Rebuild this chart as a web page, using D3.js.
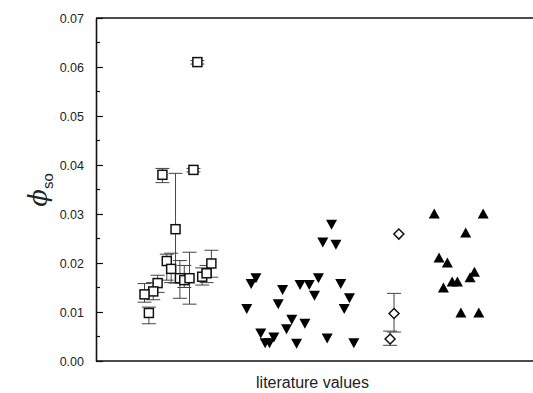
<!DOCTYPE html>
<html>
<head>
<meta charset="utf-8">
<script src="https://cdn.jsdelivr.net/npm/d3@7"></script>
<style>
  body { margin: 0; background: #fff; }
  svg { display: block; font-family: "Liberation Sans", Arial, sans-serif; }
</style>
</head>
<body>
<div id="plot"></div>
<script>
// open squares (with error bars)
const sqX  = [15.2, 22.3, 18.2, 16.2, 17.2, 19.2, 20.2, 21.4, 14.1, 13.1, 11.1, 12.1, 24.3, 25.3, 26.4, 23.2];
const sqY  = [0.0380, 0.0390, 0.0269, 0.0204, 0.0188, 0.0169, 0.0165, 0.0169, 0.0159, 0.0142, 0.0136, 0.0098, 0.0172, 0.0179, 0.0199, 0.0610];
const sqLo = [0.0364, 0.0386, 0.0159, 0.0165, 0.0160, 0.0128, 0.0150, 0.0116, 0.0140, 0.0125, 0.0120, 0.0076, 0.0155, 0.0160, 0.0171, 0.0606];
const sqHi = [0.0393, 0.0393, 0.0383, 0.0218, 0.0220, 0.0205, 0.0195, 0.0222, 0.0175, 0.0160, 0.0158, 0.0110, 0.0190, 0.0195, 0.0226, 0.0613];

// filled down triangles
const dnX = [53.9, 51.9, 54.9, 36.6, 35.5, 50.9, 46.7, 48.8, 56.0, 42.7, 50.0, 58.0, 41.7, 34.5, 56.8, 44.8, 47.8, 43.6, 37.7, 40.7, 38.7, 39.7, 45.9, 52.9, 59.0];
const dnY = [0.0278, 0.0242, 0.0237, 0.0169, 0.0157, 0.0169, 0.0155, 0.0155, 0.0157, 0.0145, 0.0133, 0.0128, 0.0116, 0.0106, 0.0106, 0.0084, 0.0076, 0.0065, 0.0056, 0.0048, 0.0036, 0.0036, 0.0035, 0.0046, 0.0036];

// open diamonds (with error bars)
const dmX  = [69.3, 68.2, 67.3];
const dmY  = [0.0259, 0.0097, 0.0045];
const dmLo = [0.0259, 0.0059, 0.0032];
const dmHi = [0.0259, 0.0138, 0.0061];

// filled up triangles
const upX = [77.4, 88.6, 84.6, 78.5, 80.4, 86.6, 85.6, 81.5, 82.7, 79.5, 83.5, 87.6];
const upY = [0.0301, 0.0301, 0.0262, 0.0211, 0.0201, 0.0182, 0.0171, 0.0162, 0.0162, 0.0150, 0.0099, 0.0099];

const yTicks = [0, 0.01, 0.02, 0.03, 0.04, 0.05, 0.06, 0.07];
const yMinor = [0.005, 0.015, 0.025, 0.035, 0.045, 0.055, 0.065];

const width = 533, height = 393;
const plotLeft = 96, plotRight = 533, plotTop = 18, plotBottom = 361;

const svg = d3.select("#plot").append("svg")
  .attr("width", width)
  .attr("height", height);

const x = d3.scaleLinear().domain([0, 100]).range([plotLeft, plotRight]);
const y = d3.scaleLinear().domain([0, 0.07]).range([plotBottom, plotTop]);

// frame: top and bottom lines
svg.append("line").attr("x1", plotLeft).attr("x2", plotRight).attr("y1", plotTop).attr("y2", plotTop)
  .attr("stroke", "#111").attr("stroke-width", 1.6);
svg.append("line").attr("x1", plotLeft).attr("x2", plotRight).attr("y1", plotBottom).attr("y2", plotBottom)
  .attr("stroke", "#111").attr("stroke-width", 1.6);

// y axis with inward ticks
const yAxis = svg.append("g")
  .attr("transform", "translate(" + plotLeft + ",0)")
  .call(d3.axisLeft(y).tickValues(yTicks).tickFormat(d3.format(".2f")).tickSizeInner(-7).tickSizeOuter(0).tickPadding(12));
yAxis.select(".domain").attr("stroke", "#111").attr("stroke-width", 1.6);
yAxis.selectAll(".tick line").attr("stroke", "#111").attr("stroke-width", 1.2);
yAxis.selectAll(".tick text").attr("font-size", 12.5).attr("fill", "#222")
  .attr("font-family", "'Liberation Sans', Arial, sans-serif");

svg.append("g")
  .selectAll("line")
  .data(yMinor)
  .enter()
  .append("line")
  .attr("x1", plotLeft).attr("x2", plotLeft + 4)
  .attr("y1", d => y(d)).attr("y2", d => y(d))
  .attr("stroke", "#111").attr("stroke-width", 1.2);

// error bars
function errorBars(xs, ys, los, his, cap) {
  const g = svg.append("g").attr("stroke", "#444").attr("stroke-width", 1);
  xs.forEach((xv, i) => {
    if (his[i] - los[i] < 1e-6) return;
    g.append("line").attr("x1", x(xv)).attr("x2", x(xv)).attr("y1", y(los[i])).attr("y2", y(his[i]));
    [los[i], his[i]].forEach(v => {
      g.append("line").attr("x1", x(xv) - cap).attr("x2", x(xv) + cap).attr("y1", y(v)).attr("y2", y(v));
    });
  });
}
errorBars(sqX, sqY, sqLo, sqHi, 7);
errorBars(dmX, dmY, dmLo, dmHi, 7);

// open squares
svg.append("g")
  .selectAll("rect")
  .data(d3.range(sqX.length))
  .enter()
  .append("rect")
  .attr("x", i => x(sqX[i]) - 4.5)
  .attr("y", i => y(sqY[i]) - 4.5)
  .attr("width", 9)
  .attr("height", 9)
  .attr("fill", "#fff")
  .attr("stroke", "#111")
  .attr("stroke-width", 1.5);

// triangles: w wide, h tall, centered on the point
function triPath(cx, cy, dir) {
  const w = 11, h = 10;
  const tipY = cy + dir * h / 2, baseY = cy - dir * h / 2;
  return "M" + (cx - w / 2) + "," + baseY + "L" + (cx + w / 2) + "," + baseY + "L" + cx + "," + tipY + "Z";
}

svg.append("g")
  .selectAll("path")
  .data(d3.range(dnX.length))
  .enter()
  .append("path")
  .attr("d", i => triPath(x(dnX[i]), y(dnY[i]), 1))
  .attr("fill", "#000");

svg.append("g")
  .selectAll("path")
  .data(d3.range(upX.length))
  .enter()
  .append("path")
  .attr("d", i => triPath(x(upX[i]), y(upY[i]), -1))
  .attr("fill", "#000");

// open diamonds
svg.append("g")
  .selectAll("path")
  .data(d3.range(dmX.length))
  .enter()
  .append("path")
  .attr("d", i => {
    const cx = x(dmX[i]), cy = y(dmY[i]), r = 5;
    return "M" + cx + "," + (cy - r) + "L" + (cx + r) + "," + cy + "L" + cx + "," + (cy + r) + "L" + (cx - r) + "," + cy + "Z";
  })
  .attr("fill", "#fff")
  .attr("stroke", "#111")
  .attr("stroke-width", 1.5);

// axis titles
svg.append("text")
  .attr("x", (plotLeft + plotRight) / 2 - 2)
  .attr("y", 388)
  .attr("text-anchor", "middle")
  .attr("font-size", 16)
  .attr("fill", "#222")
  .text("literature values");

const yl = svg.append("text")
  .attr("transform", "translate(47,190) rotate(-90)")
  .attr("text-anchor", "middle")
  .attr("fill", "#222");
yl.append("tspan")
  .attr("font-family", "'DejaVu Serif', serif")
  .attr("font-style", "italic")
  .attr("font-size", 26)
  .text("ϕ");
yl.append("tspan")
  .attr("font-size", 15)
  .attr("dy", 6)
  .text("so");
</script>
</body>
</html>
